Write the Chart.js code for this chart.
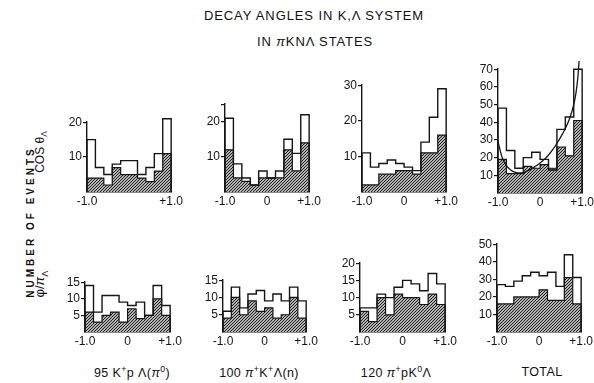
<!DOCTYPE html>
<html>
<head>
<meta charset="utf-8">
<script src="https://cdn.jsdelivr.net/npm/chart.js@4.4.1/dist/chart.umd.min.js"></script>
<style>
  body { margin: 0; width: 594px; height: 383px; overflow: hidden; background: #fff; position: relative;
         font-family: "Liberation Sans", Arial, sans-serif; color: #111; }
  canvas { position: absolute; }
  .lbl { position: absolute; white-space: nowrap; transform: translate(-50%, -50%); }
  .rot { transform: translate(-50%, -50%) rotate(-90deg); }
  .title { font-size: 13px; letter-spacing: 0.9px; }
  .foot { font-size: 12.5px; letter-spacing: 0.4px; }
  sup, sub { font-size: 70%; }
</style>
</head>
<body>

<div class="lbl title" style="left:314px; top:15px;">DECAY ANGLES IN K,&Lambda; SYSTEM</div>
<div class="lbl title" style="left:315px; top:41px;">IN <i>&pi;</i>KN&Lambda; STATES</div>

<div class="lbl rot" style="left:30px; top:222px; font-size:10px; font-weight:bold; letter-spacing:3px;">NUMBER OF EVENTS</div>
<div class="lbl rot" style="left:41px; top:152px; font-size:12px;">COS &theta;<sub>&Lambda;</sub></div>
<div class="lbl rot" style="left:41px; top:284px; font-size:13px;">&phi;/<i>&pi;</i><sub>&Lambda;</sub></div>

<div class="lbl foot" style="left:132px; top:372px;">95 K<sup>+</sup>p &Lambda;(<i>&pi;</i><sup>0</sup>)</div>
<div class="lbl foot" style="left:259px; top:372px;">100 <i>&pi;</i><sup>+</sup>K<sup>+</sup>&Lambda;(n)</div>
<div class="lbl foot" style="left:396px; top:372px;">120 <i>&pi;</i><sup>+</sup>pK<sup>0</sup>&Lambda;</div>
<div class="lbl foot" style="left:542px; top:372px;">TOTAL</div>

<script>
// histogram bin edges in cos(theta) and phi/pi
const binEdges = [-1.0, -0.8, -0.6, -0.4, -0.2, 0.0, 0.2, 0.4, 0.6, 0.8, 1.0];

// cos theta_Lambda: all events (open) and shaded subsample
const cosAll95  = [15, 7, 5, 8, 9, 9, 5, 7, 11, 21];
const cosSub95  = [4, 4, 2, 7, 5, 5, 4, 3, 6, 11];
const cosAll100 = [21, 8, 4, 2, 6, 4, 6, 15, 11, 22];
const cosSub100 = [12, 4, 3, 2, 4, 4, 4, 12, 6, 14];
const cosAll120 = [11, 7, 8, 9, 8, 7, 6, 14, 21, 29];
const cosSub120 = [2, 2, 5, 5, 6, 6, 5, 11, 11, 16];
const cosAllTot = [48, 24, 14, 20, 23, 19, 13, 36, 43, 70];
const cosSubTot = [19, 11, 11, 15, 14, 16, 14, 26, 21, 41];

// phi/pi_Lambda
const phiAll95  = [14, 6, 11, 11, 9, 8, 9, 5, 14, 8];
const phiSub95  = [6, 3, 5, 6, 3, 7, 4, 5, 10, 5];
const phiAll100 = [6, 13, 7, 11, 12, 9, 11, 9, 13, 9];
const phiSub100 = [4, 10, 5, 9, 6, 7, 4, 5, 10, 4];
const phiAll120 = [7, 7, 11, 10, 13, 15, 14, 12, 17, 14];
const phiSub120 = [6, 3, 10, 5, 11, 10, 10, 8, 11, 8];
const phiAllTot = [27, 26, 29, 32, 34, 32, 34, 26, 44, 31];
const phiSubTot = [16, 16, 20, 20, 20, 24, 18, 18, 31, 16];

// fitted curve over the total cos theta distribution
const fitX = [-1.0, -0.9, -0.8, -0.7, -0.6, -0.5, -0.4, -0.3, -0.2, -0.1, 0.0, 0.1, 0.2, 0.3, 0.4, 0.5, 0.6, 0.7, 0.8, 0.85, 0.9, 0.93, 0.96, 0.98];
const fitY = [29, 20, 15.5, 13, 11.8, 11.3, 11.5, 12.5, 13.8, 15.3, 17, 19, 21.5, 24.5, 28, 32, 36.5, 42, 50, 56, 66, 76, 92, 104];

// axis ticks per panel
const yTicksCos = [[10, 20], [10, 20, 25], [10, 20, 30], [10, 20, 30, 40, 50, 60, 70]];
const yTicksPhi = [[5, 10, 15], [5, 10, 15], [5, 10, 15, 20], [10, 20, 30, 40, 50]];

// L/R/T/B = plot box in page pixels
const panels = [
  { all: cosAll95,  sub: cosSub95,  yt: yTicksCos[0], L: 87,  R: 177, T: 122, B: 192, mid: false },
  { all: cosAll100, sub: cosSub100, yt: yTicksCos[1], L: 225, R: 315, T: 104, B: 192, mid: true, blank: [25] },
  { all: cosAll120, sub: cosSub120, yt: yTicksCos[2], L: 362, R: 452, T: 85,  B: 192, mid: true },
  { all: cosAllTot, sub: cosSubTot, yt: yTicksCos[3], L: 498, R: 588, T: 69,  B: 193, mid: true, fit: true },
  { all: phiAll95,  sub: phiSub95,  yt: yTicksPhi[0], L: 85,  R: 176, T: 282, B: 332, mid: true },
  { all: phiAll100, sub: phiSub100, yt: yTicksPhi[1], L: 223, R: 312, T: 280, B: 332, mid: true },
  { all: phiAll120, sub: phiSub120, yt: yTicksPhi[2], L: 360, R: 451, T: 263, B: 332, mid: true },
  { all: phiAllTot, sub: phiSubTot, yt: yTicksPhi[3], L: 497, R: 587, T: 244, B: 332, mid: true }
];

const INK = '#151515';
const FONT = { family: '"Liberation Sans", Arial, sans-serif', size: 12 };

// dense diagonal hatching for the shaded subsample
function hatch() {
  const c = document.createElement('canvas');
  c.width = c.height = 3;
  const g = c.getContext('2d');
  g.fillStyle = '#b4b4b4';
  g.fillRect(0, 0, 3, 3);
  g.fillStyle = '#1c1c1c';
  g.fillRect(2, 0, 1, 1);
  g.fillRect(1, 1, 1, 1);
  g.fillRect(0, 2, 1, 1);
  return g.createPattern(c, 'repeat');
}
const hatchFill = hatch();

// outline of a histogram as a stepped polyline
function steps(vals) {
  const last = binEdges[binEdges.length - 1];
  const pts = [{ x: binEdges[0], y: 0 }];
  vals.forEach((v, i) => pts.push({ x: binEdges[i], y: v }));
  pts.push({ x: last, y: vals[vals.length - 1] });
  pts.push({ x: last, y: 0 });
  return pts;
}

const PAD_L = 2, YW = 24, PAD_T = 8, PAD_R = 8, XH = 18;

panels.forEach(p => {
  const cv = document.createElement('canvas');
  const w = p.R - p.L + PAD_L + YW + PAD_R;
  const h = p.B - p.T + PAD_T + XH;
  cv.width = w; cv.height = h;
  cv.style.left = (p.L - PAD_L - YW) + 'px';
  cv.style.top = (p.T - PAD_T) + 'px';
  document.body.appendChild(cv);

  const yMax = p.yt[p.yt.length - 1];
  // 'before' draws the horizontal run first, then the vertical edge
  const datasets = [
    { data: steps(p.sub), stepped: 'before', fill: 'origin', backgroundColor: hatchFill,
      borderColor: INK, borderWidth: 1.2, pointRadius: 0, clip: false, order: 3 },
    { data: steps(p.all), stepped: 'before', fill: false,
      borderColor: INK, borderWidth: 1.4, pointRadius: 0, clip: false, order: 2 }
  ];
  if (p.fit) {
    datasets.push({ data: fitX.map((x, i) => ({ x: x, y: fitY[i] })), fill: false,
      cubicInterpolationMode: 'monotone', borderColor: INK, borderWidth: 1.3,
      pointRadius: 0, clip: false, order: 1 });
  }

  const xt = p.mid ? [-1, 0, 1] : [-1, 1];
  new Chart(cv, {
    type: 'line',
    data: { datasets: datasets },
    options: {
      responsive: false,
      animation: false,
      devicePixelRatio: 1,
      layout: { padding: { left: PAD_L, top: PAD_T, right: PAD_R, bottom: 0 } },
      plugins: { legend: { display: false }, tooltip: { enabled: false } },
      scales: {
        x: {
          type: 'linear', min: -1, max: 1,
          afterBuildTicks: s => { s.ticks = xt.map(v => ({ value: v })); },
          afterFit: s => { s.height = XH; },
          grid: { display: false, drawTicks: false },
          border: { display: true, color: INK, width: 1.4 },
          ticks: { color: INK, font: FONT, padding: 2, maxRotation: 0,
                   callback: v => v === 0 ? '0' : (v < 0 ? '-1.0' : '+1.0') }
        },
        y: {
          min: 0, max: yMax,
          afterBuildTicks: s => { s.ticks = p.yt.map(v => ({ value: v })); },
          afterFit: s => { s.width = YW; },
          grid: { drawOnChartArea: false, tickLength: 4, color: INK, lineWidth: 1.2 },
          border: { display: true, color: INK, width: 1.4 },
          ticks: { color: INK, font: FONT, padding: 1,
                   callback: v => (p.blank && p.blank.includes(v)) ? '' : String(v) }
        }
      }
    }
  });
});
</script>
</body>
</html>
